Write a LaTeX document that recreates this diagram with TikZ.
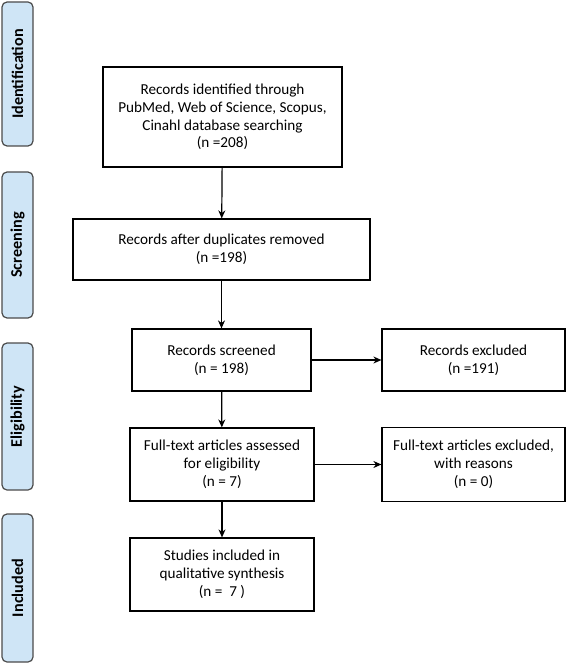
\documentclass[tikz,border=0pt]{standalone}
\usepackage{fontspec}
\setmainfont{Carlito}
\usepackage{tikz}
\usetikzlibrary{arrows.meta, positioning}
\definecolor{phasefill}{RGB}{207,229,246}
\definecolor{phaseline}{RGB}{75,75,75}
\tikzset{
    flowbox/.style={rectangle, draw, line width=1.2pt, align=center, inner sep=2pt,
        font=\fontsize{15.2}{17.8}\selectfont},
    phasebox/.style={rectangle, draw=phaseline, fill=phasefill, line width=1.2pt,
        rounded corners=5pt, rotate=90, minimum height=31pt, inner sep=0pt,
        font=\fontsize{16.2}{18}\selectfont\bfseries}
}
\begin{document}
\begin{tikzpicture}[x=1pt, y=-1pt, >={Stealth[length=8pt, width=7pt]}]
  \useasboundingbox (0,0) rectangle (567,663);
  % phases
  \node[phasebox, minimum width=144pt] (p0) at (17.5, 74.0) {Identification};
  \node[phasebox, minimum width=146pt] (p1) at (17.5, 245.0) {Screening};
  \node[phasebox, minimum width=147pt] (p2) at (17.5, 416.5) {Eligibility};
  \node[phasebox, minimum width=148pt] (p3) at (17.5, 588.0) {Included};
  % boxes
  \node[flowbox, minimum width=239pt, minimum height=100pt] (n0) at (222.5, 117.0)
    {Records identified through\\PubMed, Web of Science, Scopus,\\Cinahl database searching\\(n =208)};
  \node[flowbox, minimum width=297pt, minimum height=61pt] (n1) at (221.5, 249.5)
    {Records after duplicates removed\\(n =198)};
  \node[flowbox, minimum width=179pt, minimum height=62pt] (n2) at (221.5, 360.0)
    {Records screened\\(n = 198)};
  \node[flowbox, minimum width=183pt, minimum height=62pt] (n3) at (473.5, 360.0)
    {Records excluded\\(n =191)};
  \node[flowbox, minimum width=184pt, minimum height=73pt] (n4) at (222.0, 464.5)
    {Full-text articles assessed\\for eligibility\\(n = 7)};
  \node[flowbox, minimum width=183pt, minimum height=74pt] (n5) at (473.5, 464.5)
    {Full-text articles excluded,\\with reasons\\(n = 0)};
  \node[flowbox, minimum width=184pt, minimum height=73pt] (n6) at (222.0, 574.5)
    {Studies included in\\qualitative synthesis\\(n =~~7 )};
  % arrows
  \draw[->, line width=1.2pt] (n0) -- (n1);
  \draw[->, line width=1.2pt] (n1) -- (n2);
  \draw[->, line width=1.2pt] (n2) -- (n3);
  \draw[->, line width=1.2pt] (n2) -- (n4);
  \draw[->, line width=1.2pt] (n4) -- (n5);
  \draw[->, line width=1.2pt] (n4) -- (n6);
\end{tikzpicture}
\end{document}
